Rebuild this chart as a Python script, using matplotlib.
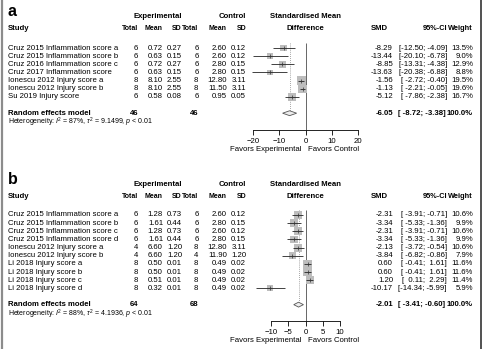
import matplotlib
matplotlib.use('Agg')
import matplotlib.pyplot as plt
from matplotlib.patches import Polygon
import numpy as np

plt.rcParams['font.family'] = ['Liberation Sans', 'DejaVu Sans']
plt.rcParams['mathtext.fontset'] = 'custom'
plt.rcParams['mathtext.rm'] = 'Liberation Sans'
plt.rcParams['mathtext.it'] = 'Liberation Sans:italic'
plt.rcParams['mathtext.bf'] = 'Liberation Sans:bold'

W, H = 485, 349
FS = 5.6

# ---------------- Panel a data ----------------
studies_a = ["Cruz 2015 Inflammation score a", "Cruz 2015 Inflammation score b",
             "Cruz 2016 Inflammation score c", "Cruz 2017 Inflammation score",
             "Ionescu 2012 Injury score a", "Ionescu 2012 Injury score b",
             "Su 2019 Injury score"]
exp_n_a = [6, 6, 6, 6, 8, 8, 6]
exp_mean_a = [0.72, 0.63, 0.72, 0.63, 8.10, 8.10, 0.58]
exp_sd_a = [0.27, 0.15, 0.27, 0.15, 2.55, 2.55, 0.08]
ctl_n_a = [6, 6, 6, 6, 8, 8, 6]
ctl_mean_a = [2.60, 2.60, 2.80, 2.80, 12.80, 11.50, 0.95]
ctl_sd_a = [0.12, 0.12, 0.15, 0.15, 3.11, 3.11, 0.05]
smd_a = [-8.29, -13.44, -8.85, -13.63, -1.56, -1.13, -5.12]
lo_a = [-12.50, -20.10, -13.31, -20.38, -2.72, -2.21, -7.86]
hi_a = [-4.09, -6.78, -4.38, -6.88, -0.40, -0.05, -2.38]
weight_a = [13.5, 9.0, 12.9, 8.8, 19.5, 19.6, 16.7]
pooled_a = [-6.05, -8.72, -3.38]
total_a = [46, 46]
het_a = ["87%", "9.1499", "0.01"]
ticks_a = [-20, -10, 0, 10, 20]

# ---------------- Panel b data ----------------
studies_b = ["Cruz 2015 Inflammation score a", "Cruz 2015 Inflammation score b",
             "Cruz 2015 Inflammation score c", "Cruz 2015 Inflammation score d",
             "Ionescu 2012 Injury score a", "Ionescu 2012 Injury score b",
             "Li 2018 Injury score a", "Li 2018 Injury score b",
             "Li 2018 Injury score c", "Li 2018 Injury score d"]
exp_n_b = [6, 6, 6, 6, 4, 4, 8, 8, 8, 8]
exp_mean_b = [1.28, 1.61, 1.28, 1.61, 6.60, 6.60, 0.50, 0.50, 0.51, 0.32]
exp_sd_b = [0.73, 0.44, 0.73, 0.44, 1.20, 1.20, 0.01, 0.01, 0.01, 0.01]
ctl_n_b = [6, 6, 6, 6, 8, 4, 8, 8, 8, 8]
ctl_mean_b = [2.60, 2.80, 2.60, 2.80, 12.80, 11.90, 0.49, 0.49, 0.49, 0.49]
ctl_sd_b = [0.12, 0.15, 0.12, 0.15, 3.11, 1.20, 0.02, 0.02, 0.02, 0.02]
smd_b = [-2.31, -3.34, -2.31, -3.34, -2.13, -3.84, 0.60, 0.60, 1.20, -10.17]
lo_b = [-3.91, -5.33, -3.91, -5.33, -3.72, -6.82, -0.41, -0.41, 0.11, -14.34]
hi_b = [-0.71, -1.36, -0.71, -1.36, -0.54, -0.86, 1.61, 1.61, 2.29, -5.99]
weight_b = [10.6, 9.9, 10.6, 9.9, 10.6, 7.9, 11.6, 11.6, 11.4, 5.9]
pooled_b = [-2.01, -3.41, -0.60]
total_b = [64, 68]
het_b = ["88%", "4.1936", "0.01"]
ticks_b = [-10, -5, 0, 5, 10]


def f2(v):
    return f"{v:.2f}"


def ci_strings(lo, hi):
    ls = [f"{v:.2f}" for v in lo]
    hs = [f"{v:.2f}" for v in hi]
    wl = max(len(s) for s in ls)
    wh = max(len(s) for s in hs)
    return ["[" + a.rjust(wl) + "; " + b.rjust(wh) + "]" for a, b in zip(ls, hs)]


fig = plt.figure(figsize=(W / 100, H / 100), dpi=100)
bg = fig.add_axes([0, 0, 1, 1])
bg.set_xlim(0, W)
bg.set_ylim(H, 0)
bg.axis('off')

# frame lines
bg.plot([2.5, 2.5], [0, H], color='#8c8c8c', lw=1.6, solid_capstyle='butt')
bg.plot([481.5, 481.5], [0, H], color='#333333', lw=1.2, solid_capstyle='butt')

# column x positions (pixels)
X_STUDY = 8
X_ETOT, X_EMEAN, X_ESD = 138, 163, 182
X_CTOT, X_CMEAN, X_CSD = 198.5, 227, 246
X_ZERO = 305.5
X_SMD, X_SMD_HDR = 393, 379
X_CI, X_W = 447, 473
STEP = 8.15


def panel(letter, y_letter, y_hdr1, y_hdr2, row0, studies, en, em, esd, cn, cm, csd,
          smd, lo, hi, wts, pooled, totals, het, ticks, xl_px, xr_px, xlim):
    def t(x, y, s, ha='right', bold=False, size=FS):
        bg.text(x, y, s, ha=ha, va='center', fontsize=size,
                fontweight='bold' if bold else 'normal', color='black')

    t(X_STUDY, y_letter, letter, ha='left', bold=True, size=11.5)
    # headers
    t(X_ESD, y_hdr1, "Experimental", bold=True)
    t(X_CSD, y_hdr1, "Control", bold=True)
    t(X_ZERO, y_hdr1, "Standardised Mean", ha='center', bold=True)
    t(X_STUDY, y_hdr2, "Study", ha='left', bold=True)
    for x, s in [(X_ETOT, "Total"), (X_EMEAN, "Mean"), (X_ESD - 1, "SD"),
                 (X_CTOT, "Total"), (X_CMEAN, "Mean"), (X_CSD, "SD")]:
        t(x, y_hdr2, s, bold=True, size=FS - 0.6)
    t(X_ZERO, y_hdr2, "Difference", ha='center', bold=True)
    t(X_SMD_HDR, y_hdr2, "SMD", ha='center', bold=True)
    t(X_CI + 0.5, y_hdr2, "95%-CI", bold=True, size=FS - 0.3)
    t(X_W, y_hdr2, "Weight", bold=True, size=FS - 0.3)

    cis = ci_strings(list(lo) + [pooled[1]], list(hi) + [pooled[2]])
    n = len(studies)
    for i in range(n):
        y = row0 + STEP * i
        t(X_STUDY, y, studies[i], ha='left')
        t(X_ETOT, y, str(en[i]))
        t(X_EMEAN, y, f"{em[i]:.2f}")
        t(X_ESD, y, f"{esd[i]:.2f}")
        t(X_CTOT, y, str(cn[i]))
        t(X_CMEAN, y, f"{cm[i]:.2f}")
        t(X_CSD, y, f"{csd[i]:.2f}")
        t(X_SMD, y, f2(smd[i]))
        t(X_CI, y, cis[i])
        t(X_W, y, f"{wts[i]:.1f}%")

    prow = n + 1
    yp = row0 + STEP * prow
    t(X_STUDY, yp, "Random effects model", ha='left', bold=True)
    t(X_ETOT, yp, str(totals[0]), bold=True)
    t(X_CTOT, yp, str(totals[1]), bold=True)
    t(X_SMD, yp, f2(pooled[0]), bold=True)
    t(X_CI - 1.5, yp, cis[n], bold=True)
    t(X_W, yp, "100.0%", bold=True)
    yh = row0 + STEP * (prow + 1) + 1.2
    bg.text(X_STUDY, yh,
            r"Heterogeneity: $I^2$ = " + het[0] + r", $\tau^2$ = " + het[1]
            + r", $p$ < " + het[2],
            ha='left', va='center', fontsize=FS - 0.6)

    # forest axes
    axis_row = prow + 2
    y_axis_px = row0 + STEP * axis_row
    top_px = row0 - 7
    ax = fig.add_axes([xl_px / W, 1 - y_axis_px / H, (xr_px - xl_px) / W,
                       (y_axis_px - top_px) / H])
    r_top = (top_px - row0) / STEP
    ax.set_xlim(xlim)
    ax.set_ylim(axis_row, r_top)
    ax.patch.set_alpha(0)
    for s in ['top', 'right', 'left']:
        ax.spines[s].set_visible(False)
    ax.spines['bottom'].set_bounds(xlim[0], xlim[1])
    ax.spines['bottom'].set_linewidth(0.6)
    ax.set_yticks([])
    ax.set_xticks(ticks)
    ax.tick_params(axis='x', length=3.5, width=0.6, labelsize=FS, pad=2.5)

    rows = np.arange(n)
    # zero line and pooled line
    ax.vlines(0, r_top + 0.2, axis_row, color='#666666', lw=0.7, zorder=1)
    ax.vlines(pooled[0], r_top + 0.2, prow - 0.3, color='#888888', lw=0.6,
              linestyles=(0, (1, 1.5)), zorder=1)
    w = np.array(wts)
    side_pt = 6.0 * np.sqrt(w / w.max())
    ax.scatter(smd, rows, marker='s', s=side_pt ** 2, color='#bdbdbd',
               linewidths=0, zorder=2, clip_on=False)
    ax.hlines(rows, lo, hi, color='#222222', lw=0.6, zorder=3, clip_on=False)
    ax.scatter(smd, rows, marker='|', s=6, color='#333333', linewidths=0.5,
               zorder=4, clip_on=False)
    dh = 0.3
    ax.add_patch(Polygon([(pooled[1], prow), (pooled[0], prow - dh),
                          (pooled[2], prow), (pooled[0], prow + dh)],
                         closed=True, facecolor='#ececec', edgecolor='#555555',
                         lw=0.6, zorder=3, clip_on=False))

    yf = y_axis_px + 20
    t(X_ZERO - 3.5, yf, "Favors Experimental", ha='right')
    t(X_ZERO + 2.5, yf, "Favors Control", ha='left')


panel("a", 11, 17, 28.5, 48, studies_a, exp_n_a, exp_mean_a, exp_sd_a, ctl_n_a,
      ctl_mean_a, ctl_sd_a, smd_a, lo_a, hi_a, weight_a, pooled_a, total_a, het_a,
      ticks_a, 253, 358, (-20, 20))
panel("b", 179, 185, 196.5, 215, studies_b, exp_n_b, exp_mean_b, exp_sd_b, ctl_n_b,
      ctl_mean_b, ctl_sd_b, smd_b, lo_b, hi_b, weight_b, pooled_b, total_b, het_b,
      ticks_b, 271, 340, (-10, 10))

fig.savefig("out.png", dpi=100)
